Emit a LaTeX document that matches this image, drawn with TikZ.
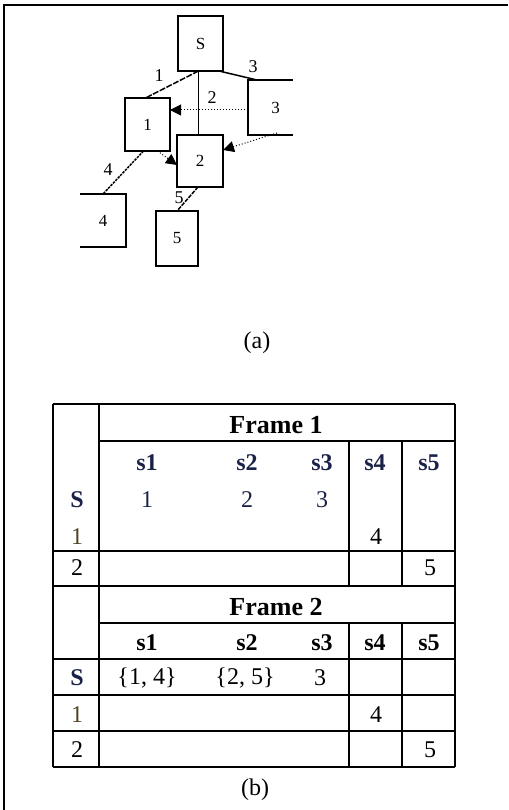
\documentclass[tikz,border=0pt]{standalone}
\usepackage{fontspec}
\setmainfont{Liberation Serif}
\usetikzlibrary{arrows.meta,calc}
\definecolor{navy}{HTML}{1A2248}
\definecolor{olivebrown}{HTML}{4E4220}
\begin{document}
\begin{tikzpicture}[x=1pt,y=-1pt,
  box/.style={draw,line width=1.4pt,inner sep=0pt,outer sep=0pt,font=\fontsize{17}{17}\selectfont},
  openbox/.style={inner sep=0pt,outer sep=0pt,font=\fontsize{17}{17}\selectfont},
  edgeline/.style={line width=1.5pt},
  flow/.style={dotted,line width=1pt,-{Triangle[length=11pt,width=11pt]}},
  lab/.style={inner sep=0pt,font=\fontsize{18}{18}\selectfont},
  grid/.style={line width=1.5pt},
  cell/.style={inner sep=0pt,font=\fontsize{24}{24}\selectfont},
  head/.style={inner sep=0pt,font=\fontsize{24}{24}\selectfont\bfseries},
  frametitle/.style={inner sep=0pt,font=\fontsize{26}{26}\selectfont\bfseries},
  caption/.style={inner sep=0pt,font=\fontsize{24}{24}\selectfont}]
\useasboundingbox (0,0) rectangle (508,810);
% outer frame
\draw[line width=1.2pt] (4,810) -- (4,5) -- (508,5);

% ---------- (a) ----------
\node[box,minimum width=45pt,minimum height=55pt] (S) at (200.5,43.5) {S};
\node[box,minimum width=45pt,minimum height=53pt] (b1) at (147.5,124.5) {1};
\node[box,minimum width=46pt,minimum height=52pt] (b2) at (200,161) {2};
\node[openbox,minimum width=45pt,minimum height=55pt] (b3) at (270.5,107.5) {\hspace{10pt}3};
\node[openbox,minimum width=46pt,minimum height=53pt] (b4) at (103,220.5) {4};
\node[box,minimum width=42pt,minimum height=55pt] (b5) at (177,238.5) {5};
\draw[line width=1.4pt] (b3.north east) -- (b3.north west) -- (b3.south west) -- (b3.south east);
\draw[line width=1.4pt] (b4.north west) -- (b4.north east) -- (b4.south east) -- (b4.south west);

\draw[edgeline,dash pattern=on 6pt off 1.5pt] ([xshift=-2pt]S.south) -- ([xshift=-2pt]b1.north);
\draw[edgeline] ([xshift=-2pt]S.south) -- ([xshift=-2pt]S.south |- b2.north);
\draw[edgeline] ([xshift=-4pt]S.south east) -- ([xshift=9pt]b3.north west) -- (b3.north west);
\draw[edgeline,dash pattern=on 2.5pt off 1pt] ([xshift=-4pt]b1.south) -- (b4.north);
\draw[edgeline,dash pattern=on 4pt off 1.2pt] ([xshift=-2pt]b2.south) -- (b5.north);

\coordinate (a3) at (277,133);
\draw[flow] ([yshift=-2.5pt]b3.west) -- ([yshift=-2.5pt]b3.west -| b1.east);
\draw[flow] (a3) -- ([yshift=-15pt]b2.north east);
\draw[flow] ([xshift=10pt]b1.south) -- ([yshift=-30pt]b2.north west);

\node[lab] (l1) at (159,76) {1};
\node[lab] (l2) at (212,98) {2};
\node[lab] (l3) at (253,67) {3};
\node[lab] (l4) at (108,170) {4};
\node[lab] (l5) at (179,198) {5};

\node[caption] (capa) at (257,343) {(a)};

% ---------- (b) ----------
\draw[grid] (53,404) -- (455,404);
\draw[grid] (99,441) -- (455,441);
\draw[grid] (53,551) -- (455,551);
\draw[grid] (53,586) -- (455,586);
\draw[grid] (99,623) -- (455,623);
\draw[grid] (53,659) -- (455,659);
\draw[grid] (53,695) -- (455,695);
\draw[grid] (53,731) -- (455,731);
\draw[grid] (53,767) -- (455,767);
\draw[grid] (53,404) -- (53,767);
\draw[grid] (99,404) -- (99,767);
\draw[grid] (455,404) -- (455,767);
\draw[grid] (349,441) -- (349,586);
\draw[grid] (402,441) -- (402,586);
\draw[grid] (349,623) -- (349,767);
\draw[grid] (402,623) -- (402,767);

\node[frametitle] (f1) at (276,425) {Frame 1};
\node[head,text=navy] (f1s1) at (147,463) {s1};
\node[head,text=navy] (f1s2) at (247,463) {s2};
\node[head,text=navy] (f1s3) at (322,463) {s3};
\node[head,text=navy] (f1s4) at (375,463) {s4};
\node[head,text=navy] (f1s5) at (429,463) {s5};
\node[head,text=navy] (f1rS) at (77,500) {S};
\node[cell,text=navy] (f1a) at (147,500) {1};
\node[cell,text=navy] (f1b) at (247,500) {2};
\node[cell,text=navy] (f1c) at (322,500) {3};
\node[cell,text=olivebrown] (f1r1) at (77,537) {1};
\node[cell] (f1d) at (376,537) {4};
\node[cell] (f1r2) at (77,568) {2};
\node[cell] (f1e) at (430,568) {5};

\node[frametitle] (f2) at (276,607) {Frame 2};
\node[head] (f2s1) at (147,643) {s1};
\node[head] (f2s2) at (247,643) {s2};
\node[head] (f2s3) at (322,643) {s3};
\node[head] (f2s4) at (375,643) {s4};
\node[head] (f2s5) at (429,643) {s5};
\node[head,text=navy] (f2rS) at (77,678) {S};
\node[cell] (f2a) at (147,678) {\{1, 4\}};
\node[cell] (f2b) at (245,678) {\{2, 5\}};
\node[cell] (f2c) at (320,678) {3};
\node[cell,text=olivebrown] (f2r1) at (77,715) {1};
\node[cell] (f2d) at (376,715) {4};
\node[cell] (f2r2) at (77,750) {2};
\node[cell] (f2e) at (430,750) {5};

\node[caption] (capb) at (255,790) {(b)};
\end{tikzpicture}
\end{document}
